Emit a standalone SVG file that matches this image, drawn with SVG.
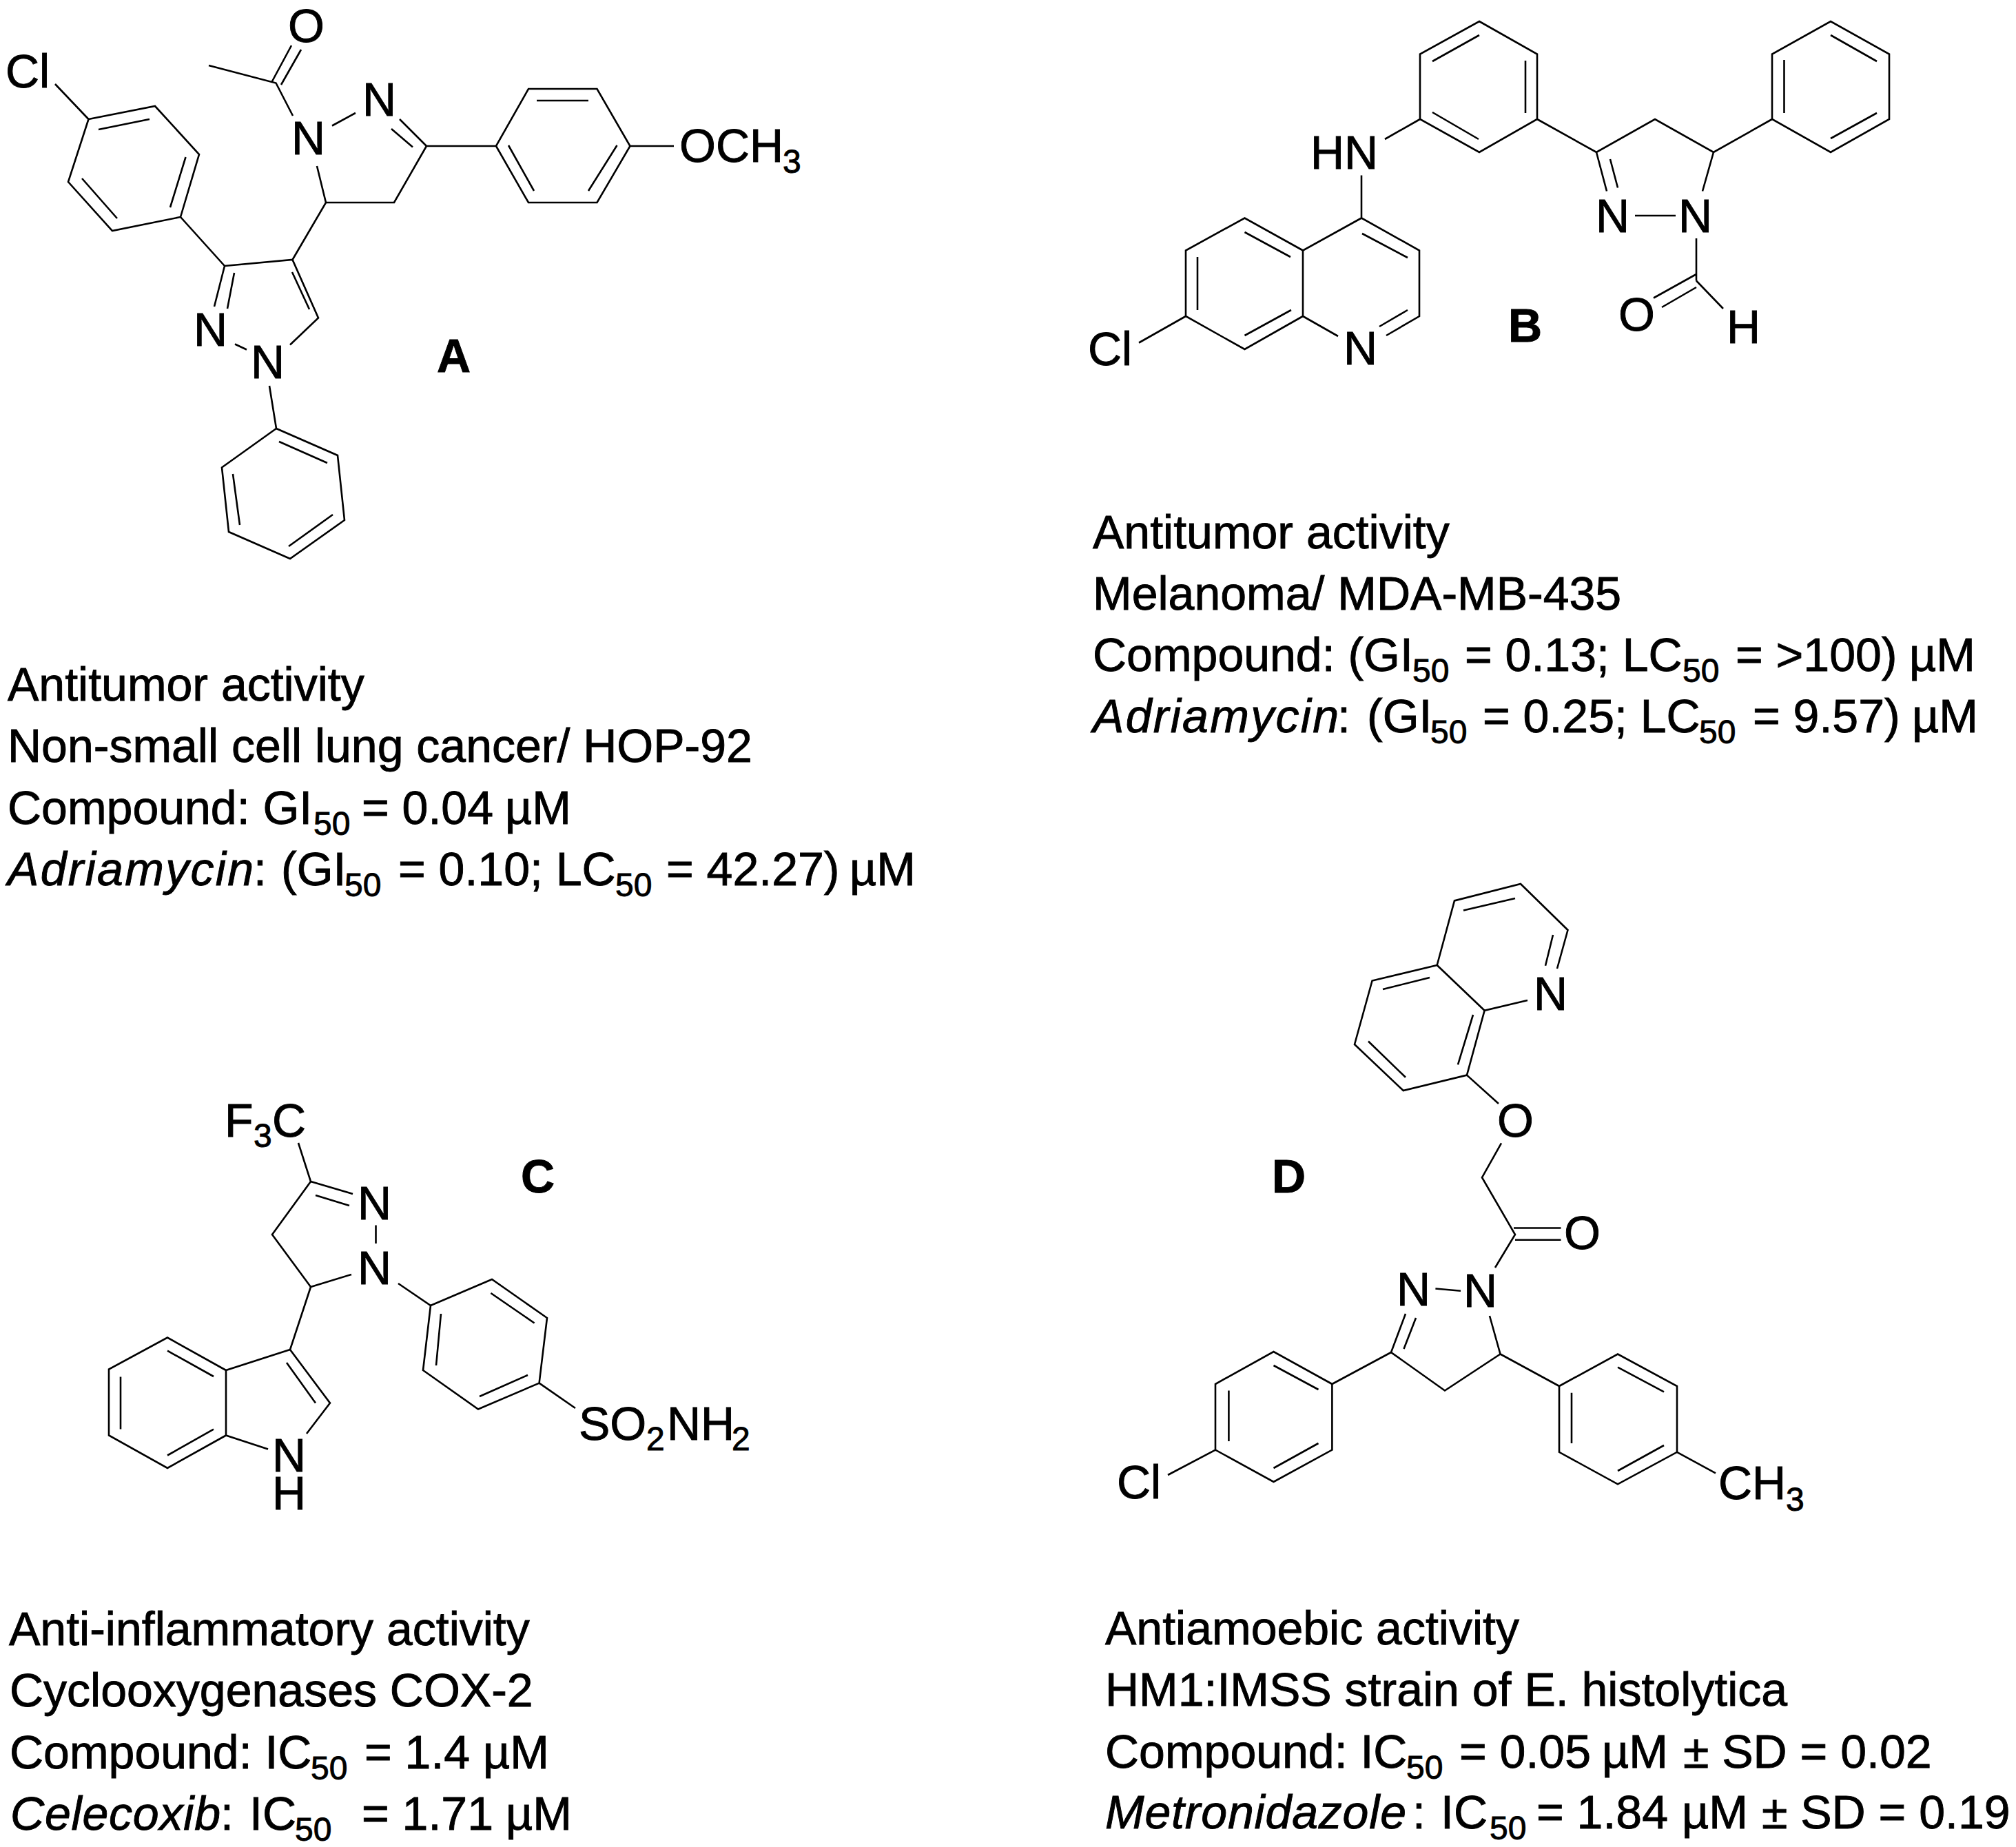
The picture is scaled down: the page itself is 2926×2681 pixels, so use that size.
<svg xmlns="http://www.w3.org/2000/svg" width="2926" height="2681" viewBox="0 0 2926 2681">
<style>
text{font-family:"Liberation Sans",Arial,sans-serif;fill:#000;stroke:#000;stroke-width:.9}
.bonds{fill:none;stroke:#000;stroke-width:2.6;stroke-linejoin:miter;stroke-linecap:butt}
.atom{font-size:68px}
.tag{font-size:68px;font-weight:700}
.cap{font-size:68px}
.sub{font-size:48px}
.it{font-style:italic}
</style>
<rect width="2926" height="2681" fill="#fff"/>
<g id="connectors">
<path id="bonds-a" class="bonds" d="M80 122L128.5 173M128.5 173L225 154L289 224L262 315L163 335L99 264ZM143 188L217 173M269.5 228L247 301M170 317L119 259M262 315L326 386M326 386L424.5 377L462 461.5L421 500.5M424 395L449 449M358 507.500L341 499.500M326 386L311 445M340 396L330 448M391 560L401 622L490 661L500 755L421 811L332 772L322 678.500L401 622M405 641L475 672M483 747L419 793M348 762L338 688M424.500 377L473 294L572 294L619 212M473 294L460 241M482 182.500L516 164M619 212L580 173M599 213.500L568 187M425 168L400.500 120.500L303 95M395 118L423 66M408 123L437 72M619 212L720 212L767 129L866.500 129L914.500 212L866.500 294L767 294L720 212M779 146L854 146M895.500 211L854 277M775 277L738 211M914.500 212L978 212"/>
<path id="bonds-b" class="bonds" d="M2147 31L2231 78.500L2231 173L2147 221L2061 173L2061 78.500ZM2147 51L2079 89M2214 88L2214 164M2146 202L2079 163M2061 173L2010 202M1976 254.500L1976 316.500L2060 363.500L2060 459L2012 487M1977 339L2043 374M2043 450L2002 474M1891 459L1942 488M1891 459L1891 363.500L1976 316.500M1891 363.500L1806.500 316.500L1721 363.500L1721 459L1806.500 507L1891 459M1806.500 337L1873 373M1738 373L1738 450M1806.500 487L1874 450M1721 459L1653 497.500M2231 173L2317 221L2402 173L2487 221L2572 173M2317 221L2332 277.500M2337 231L2348 272.500M2487 221L2471 277.500M2373 313L2432 313M2462 346L2462 407.500M2462 398L2400 432.500M2462 417L2412 446M2462 407.500L2501 448M2572 173L2572 78.500L2657 31L2742 78.500L2742 173L2657 221ZM2589.500 164L2589.500 87M2657 51L2724 89M2724 164L2657 201"/>
<path id="bonds-c" class="bonds" d="M433 1659L451 1715L395 1792L451 1868M451 1715L512 1733M458 1735L507 1750M545.500 1778.600L545.500 1805M451 1868L510 1850M578 1863L625 1895L714 1857L794 1913L782.600 2007.600L694 2045.500L614 1989L625 1895M712.400 1877L775.600 1920.500M766 1996L696 2027M633 1982L640 1907M782.600 2007.600L835 2044M451 1868L421 1959L479 2036.600L445 2081M416 1978L458 2036.600M421 1959L328 1989L328 2083.500L389 2103.600M328 1989L243 1941.500L158 1987.500L158 2083.500L243 2131L328 2083.500M243 1960.700L310 1998M175 1998.600L175 2074.600M243 2112.500L310 2074.600"/>
<path id="bonds-d" class="bonds" d="M2217 1452L2154.600 1466.800L2085.700 1401L2111 1307.400L2207 1283L2275.500 1350L2260 1406M2124 1321.400L2199 1304M2254 1357L2243 1401.800M2085.700 1401L1991.600 1423.500L1966 1516L2036.700 1583L2129 1560.600L2154.600 1466.800M2075 1419L2007 1436M1986 1511.500L2040 1563.800M2116 1545.300L2138 1473M2129 1560.600L2175 1602M2179 1659.400L2151 1709.200L2199 1792L2170 1840M2197 1782.500L2265.500 1782.500M2199 1799.700L2265.500 1799.700M2083.400 1870.500L2120 1873.700M2162 1910L2177.500 1965.500L2097 2018.500L2019 1963L2040 1907M2055 1913L2037.500 1958M2019 1963L1933.400 2009M1933.400 2009L1848.500 1962L1764 2009L1764 2104.600L1848.500 2151L1933.400 2104.600ZM1848.500 1982L1913.500 2017M1783.400 2018.500L1783.400 2092M1848.500 2131L1913.500 2095M1764 2104.600L1695 2141M2177.500 1965.500L2263 2012M2263 2012L2348 1965.500L2434 2012L2434 2107.800L2348 2154.300L2263 2107.800ZM2348 1984.700L2415 2020.400M2281 2021.700L2281 2095M2348 2135L2415 2098M2434 2107.800L2490 2138.400"/>
</g>
<g id="compound-a">
<text class="atom" x="8" y="127">Cl</text>
<text class="atom" x="418" y="61">O</text>
<text class="atom" x="423" y="224">N</text>
<text class="atom" x="526" y="168">N</text>
<text class="atom" x="281" y="502">N</text>
<text class="atom" x="364" y="549">N</text>
<text class="atom" x="986" y="235">OCH<tspan class="sub" x="1136" y="251">3</tspan></text>
<text class="tag" x="634" y="540">A</text>
<text class="cap" x="11" y="1017">Antitumor activity</text>
<text class="cap" x="11" y="1106">Non-small cell lung cancer/ HOP-92</text>
<text class="cap" x="11" y="1196">Compound: GI<tspan class="sub" x="455" y="1212">50</tspan><tspan x="525" y="1196">= 0.04 </tspan><tspan x="733">µM</tspan></text>
<text class="cap" x="11" y="1285"><tspan class="it" textLength="357">Adriamycin</tspan><tspan x="368">: </tspan><tspan x="408">(GI</tspan><tspan class="sub" x="500" y="1301">50</tspan><tspan x="578" y="1285">= 0.10; LC</tspan><tspan class="sub" x="893" y="1301">50</tspan><tspan x="967" y="1285">= 42.27) </tspan><tspan x="1233">µM</tspan></text>
</g>
<g id="compound-b">
<text class="atom" x="1902" y="245">HN</text>
<text class="atom" x="1950" y="529">N</text>
<text class="atom" x="1579" y="530">Cl</text>
<text class="atom" x="2316" y="337">N</text>
<text class="atom" x="2436" y="337">N</text>
<text class="atom" x="2349" y="480">O</text>
<text class="atom" x="2506" y="498">H</text>
<text class="tag" x="2189" y="496">B</text>
<text class="cap" x="1586" y="796">Antitumor activity</text>
<text class="cap" x="1586" y="885">Melanoma/ MDA-MB-435</text>
<text class="cap" x="1586" y="974">Compound: (GI<tspan class="sub" x="2050" y="990">50</tspan><tspan x="2126" y="974">= 0.13; LC</tspan><tspan class="sub" x="2442" y="990">50</tspan><tspan x="2519" y="974">= &gt;100) </tspan><tspan x="2771">µM</tspan></text>
<text class="cap" x="1586" y="1063"><tspan class="it" textLength="357">Adriamycin</tspan><tspan x="1941">: </tspan><tspan x="1984">(GI</tspan><tspan class="sub" x="2076" y="1079">50</tspan><tspan x="2152" y="1063">= 0.25; LC</tspan><tspan class="sub" x="2466" y="1079">50</tspan><tspan x="2544" y="1063">= 9.57) </tspan><tspan x="2775">µM</tspan></text>
</g>
<g id="compound-c">
<text class="atom" x="326" y="1650">F<tspan class="sub" x="368" y="1665">3</tspan><tspan x="395" y="1650">C</tspan></text>
<text class="atom" x="519" y="1770">N</text>
<text class="atom" x="519" y="1864">N</text>
<text class="atom" x="395" y="2136">N</text>
<text class="atom" x="395" y="2191">H</text>
<text class="atom" x="840" y="2090">SO<tspan class="sub" x="938" y="2105">2</tspan><tspan x="968" y="2090">NH</tspan><tspan class="sub" x="1062" y="2105">2</tspan></text>
<text class="tag" x="756" y="1731">C</text>
<text class="cap" x="13" y="2388">Anti-inflammatory activity</text>
<text class="cap" x="14" y="2477">Cyclooxygenases COX-2</text>
<text class="cap" x="14" y="2567">Compound: IC<tspan class="sub" x="451" y="2583">50</tspan><tspan x="529" y="2567">= 1.4 </tspan><tspan x="701">µM</tspan></text>
<text class="cap" x="15" y="2656"><tspan class="it" textLength="305">Celecoxib</tspan><tspan x="320">: </tspan><tspan x="362">IC</tspan><tspan class="sub" x="428" y="2672">50</tspan><tspan x="525" y="2656">= 1.71 </tspan><tspan x="734">µM</tspan></text>
</g>
<g id="compound-d">
<text class="atom" x="2226" y="1466">N</text>
<text class="atom" x="2173" y="1650">O</text>
<text class="atom" x="2270" y="1813">O</text>
<text class="atom" x="2124" y="1897">N</text>
<text class="atom" x="2027" y="1895">N</text>
<text class="atom" x="1621" y="2175">Cl</text>
<text class="atom" x="2494" y="2176">CH<tspan class="sub" x="2592" y="2193">3</tspan></text>
<text class="tag" x="1846" y="1731">D</text>
<text class="cap" x="1604" y="2387">Antiamoebic activity</text>
<text class="cap" x="1604" y="2476">HM1:IMSS strain of E. histolytica</text>
<text class="cap" x="1604" y="2566">Compound: IC<tspan class="sub" x="2041" y="2582">50</tspan><tspan x="2118" y="2566">= 0.05 </tspan><tspan x="2325">µM</tspan><tspan x="2443">± SD = 0.02</tspan></text>
<text class="cap" x="1604" y="2654"><tspan class="it" textLength="437">Metronidazole</tspan><tspan x="2050">: </tspan><tspan x="2091">IC</tspan><tspan class="sub" x="2162" y="2670">50</tspan><tspan x="2230" y="2654">= 1.84 </tspan><tspan x="2441">µM</tspan><tspan x="2557">± SD = 0.19</tspan></text>
</g>
</svg>
